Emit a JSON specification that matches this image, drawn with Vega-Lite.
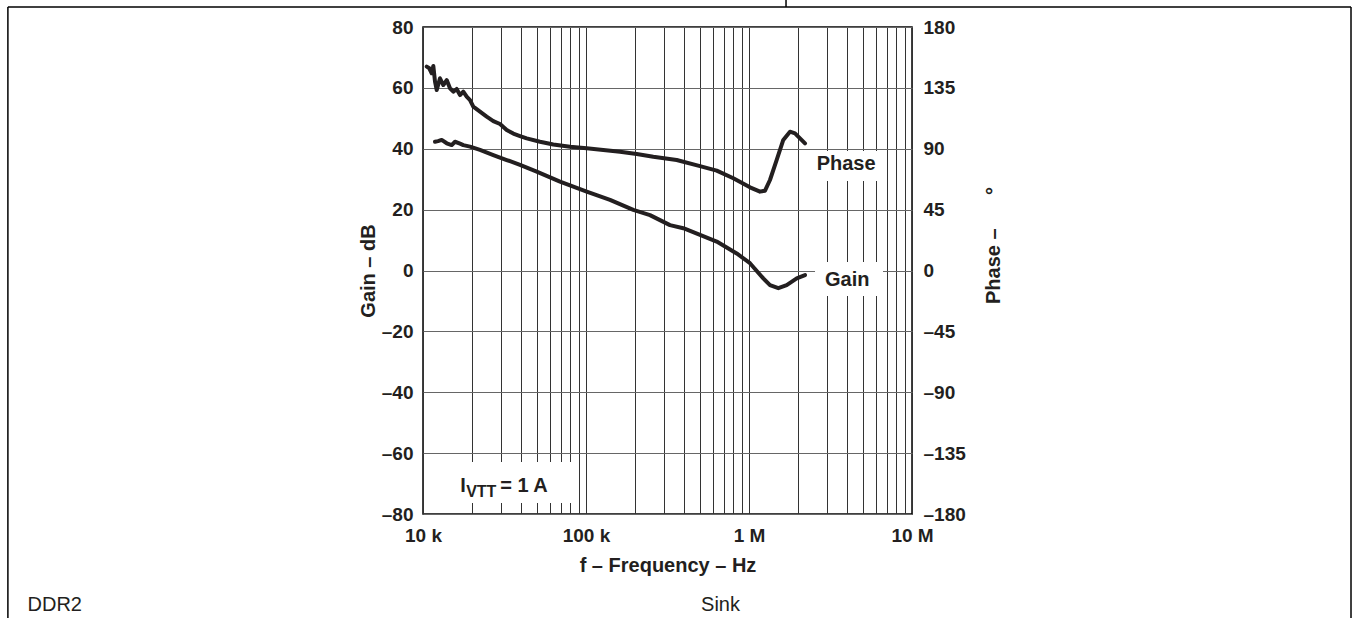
{
  "$schema": "https://vega.github.io/schema/vega-lite/v6.json",
  "width": 489,
  "height": 487,
  "autosize": {"type": "none"},
  "padding": {"left": 423, "top": 27, "right": 445, "bottom": 104},
  "background": "white",
  "datasets": {
    "gain": [
      {"f": 11850, "gain": 42.3}, {"f": 12360, "gain": 42.5}, {"f": 13020, "gain": 42.9}, {"f": 13980, "gain": 41.8},
      {"f": 15000, "gain": 41.2}, {"f": 15720, "gain": 42.3}, {"f": 16870, "gain": 41.7}, {"f": 17670, "gain": 41.2},
      {"f": 19430, "gain": 40.7}, {"f": 22370, "gain": 39.6}, {"f": 27000, "gain": 37.9}, {"f": 32620, "gain": 36.3},
      {"f": 39370, "gain": 34.7}, {"f": 49840, "gain": 32.5}, {"f": 69250, "gain": 29.2}, {"f": 101000, "gain": 25.9},
      {"f": 140400, "gain": 23.2}, {"f": 195100, "gain": 19.9}, {"f": 246900, "gain": 18.2}, {"f": 327500, "gain": 14.9},
      {"f": 395400, "gain": 13.9}, {"f": 500500, "gain": 11.7}, {"f": 633800, "gain": 9.5}, {"f": 840600, "gain": 5.6},
      {"f": 1014000, "gain": 2.4}, {"f": 1224000, "gain": -2.6}, {"f": 1345000, "gain": -4.8}, {"f": 1513000, "gain": -5.8},
      {"f": 1703000, "gain": -4.8}, {"f": 1962000, "gain": -2.6}, {"f": 2206000, "gain": -1.5}
    ],
    "phase": [
      {"f": 10540, "phase": 150.7}, {"f": 10930, "phase": 149.5}, {"f": 11310, "phase": 145.8}, {"f": 11570, "phase": 151.2},
      {"f": 11850, "phase": 139.6}, {"f": 12140, "phase": 133.4}, {"f": 12710, "phase": 142.1}, {"f": 13320, "phase": 137.1},
      {"f": 13980, "phase": 140.8}, {"f": 14640, "phase": 134.7}, {"f": 15350, "phase": 132.2}, {"f": 16090, "phase": 134.2},
      {"f": 16870, "phase": 129.7}, {"f": 17670, "phase": 132.2}, {"f": 18540, "phase": 128.5}, {"f": 19430, "phase": 126.0},
      {"f": 20350, "phase": 121.1}, {"f": 22370, "phase": 117.4}, {"f": 24590, "phase": 113.7}, {"f": 27000, "phase": 110.4},
      {"f": 29680, "phase": 108.3}, {"f": 32620, "phase": 103.9}, {"f": 35810, "phase": 101.2}, {"f": 39370, "phase": 99.4},
      {"f": 43270, "phase": 97.7}, {"f": 52220, "phase": 95.2}, {"f": 63010, "phase": 93.1}, {"f": 79760, "phase": 91.5},
      {"f": 101000, "phase": 90.3}, {"f": 127700, "phase": 89.1}, {"f": 161700, "phase": 87.8}, {"f": 204700, "phase": 86.1},
      {"f": 258800, "phase": 84.1}, {"f": 360100, "phase": 81.7}, {"f": 500500, "phase": 77.2}, {"f": 633800, "phase": 73.8},
      {"f": 801200, "phase": 68.2}, {"f": 1014000, "phase": 61.5}, {"f": 1168000, "phase": 58.3}, {"f": 1254000, "phase": 59.0},
      {"f": 1345000, "phase": 66.9}, {"f": 1479000, "phase": 81.7}, {"f": 1623000, "phase": 96.5}, {"f": 1784000, "phase": 102.6},
      {"f": 1915000, "phase": 101.4}, {"f": 2056000, "phase": 97.7}, {"f": 2206000, "phase": 94.0}
    ],
    "boxes": [
      {"f1": 14030, "f2": 85600, "g1": -62.9, "g2": -76.4},
      {"f1": 2435000, "f2": 6546000, "g1": 39.3, "g2": 29.4},
      {"f1": 2541000, "f2": 6640000, "g1": 2.8, "g2": -8.4}
    ],
    "labels": [
      {"f": 2602000, "gain": 33.0, "label": "Phase"},
      {"f": 2926000, "gain": -5.1, "label": "Gain"}
    ],
    "cond": [{"f": 16900, "gain": -72.7}],
    "hframe": [{"f1": 28.4, "f2": 4935000000, "g": 86.57}],
    "vframe": [
      {"f": 28.4, "g1": 86.57, "g2": -114.2},
      {"f": 4935000000, "g1": 86.57, "g2": -114.2},
      {"f": 1687000, "g1": 86.57, "g2": 110}
    ]
  },
  "layer": [
    {
      "data": {"name": "boxes"},
      "mark": {"type": "rect", "fill": "white", "stroke": null},
      "encoding": {
        "x": {"field": "f1", "type": "quantitative", "scale": {"type": "log", "domain": [10000, 10000000], "nice": false}, "axis": null},
        "x2": {"field": "f2"},
        "y": {"field": "g1", "type": "quantitative", "scale": {"domain": [-80, 80], "nice": false, "zero": false}, "axis": null},
        "y2": {"field": "g2"}
      }
    },
    {
      "data": {"name": "gain"},
      "mark": {"type": "line", "color": "#231f20", "strokeWidth": 4, "strokeJoin": "round", "strokeCap": "round"},
      "encoding": {
        "x": {
          "field": "f", "type": "quantitative",
          "scale": {"type": "log", "domain": [10000, 10000000], "nice": false},
          "axis": {
            "orient": "bottom",
            "values": [10000, 20000, 30000, 40000, 50000, 60000, 70000, 80000, 90000, 100000, 200000, 300000, 400000, 500000, 600000, 700000, 800000, 900000, 1000000, 2000000, 3000000, 4000000, 5000000, 6000000, 7000000, 8000000, 9000000, 10000000],
            "labelExpr": "datum.value == 10000 ? '10 k' : datum.value == 100000 ? '100 k' : datum.value == 1000000 ? '1 M' : datum.value == 10000000 ? '10 M' : ''",
            "grid": true, "gridColor": "#333333", "gridWidth": 1, "gridOpacity": 1,
            "labelPadding": 12, "labelOverlap": false, "labelFlush": false, "labelBound": false,
            "title": "f – Frequency – Hz", "titlePadding": 10
          }
        },
        "y": {
          "field": "gain", "type": "quantitative",
          "scale": {"domain": [-80, 80], "nice": false, "zero": false},
          "axis": {
            "orient": "left",
            "values": [-80, -60, -40, -20, 0, 20, 40, 60, 80],
            "labelExpr": "datum.value < 0 ? '–' + (-datum.value) : '' + datum.value",
            "grid": true, "gridColor": "#666666", "gridWidth": 1, "gridOpacity": 1,
            "labelPadding": 10, "title": "Gain – dB", "titlePadding": 3
          }
        }
      }
    },
    {
      "data": {"name": "phase"},
      "mark": {"type": "line", "color": "#231f20", "strokeWidth": 4, "strokeJoin": "round", "strokeCap": "round"},
      "encoding": {
        "x": {
          "field": "f", "type": "quantitative",
          "scale": {"type": "log", "domain": [10000, 10000000], "nice": false},
          "axis": {
            "orient": "bottom", "domain": false, "ticks": false, "labels": false, "grid": false,
            "title": "Sink", "titleFontWeight": "normal", "titleFontSize": 20,
            "titleX": 297, "titleY": 96, "titleAlign": "center", "titleBaseline": "alphabetic", "titleAngle": 0
          }
        },
        "y": {
          "field": "phase", "type": "quantitative",
          "scale": {"domain": [-180, 180], "nice": false, "zero": false},
          "axis": {
            "orient": "right",
            "values": [-180, -135, -90, -45, 0, 45, 90, 135, 180],
            "labelExpr": "datum.value < 0 ? '–' + (-datum.value) : '' + datum.value",
            "grid": false, "labelPadding": 11,
            "title": "Phase –\u00a0\u00a0\u00a0\u00a0\u00a0\u00a0°", "titleAngle": 270, "titlePadding": 38, "titleY": 218
          }
        }
      }
    },
    {
      "data": {"name": "labels"},
      "mark": {"type": "text", "align": "left", "baseline": "alphabetic", "font": "Liberation Sans", "fontSize": 20, "fontWeight": "bold", "color": "#231f20"},
      "encoding": {
        "x": {
          "field": "f", "type": "quantitative",
          "scale": {"type": "log", "domain": [10000, 10000000], "nice": false},
          "axis": {
            "orient": "bottom", "domain": false, "ticks": false, "labels": false, "grid": false,
            "title": "DDR2", "titleFontWeight": "normal", "titleFontSize": 20,
            "titleX": -396, "titleY": 96, "titleAlign": "left", "titleBaseline": "alphabetic", "titleAngle": 0
          }
        },
        "y": {"field": "gain", "type": "quantitative", "scale": {"domain": [-80, 80], "nice": false, "zero": false}, "axis": null},
        "text": {"field": "label"}
      }
    },
    {
      "data": {"name": "cond"},
      "mark": {"type": "text", "text": "I", "align": "left", "baseline": "alphabetic", "font": "Liberation Sans", "fontSize": 20, "fontWeight": "bold", "color": "#231f20"},
      "encoding": {
        "x": {"field": "f", "type": "quantitative", "axis": null},
        "y": {"field": "gain", "type": "quantitative", "scale": {"domain": [-80, 80], "nice": false, "zero": false}, "axis": null}
      }
    },
    {
      "data": {"name": "cond"},
      "mark": {"type": "text", "text": "VTT", "dx": 6, "dy": 5, "align": "left", "baseline": "alphabetic", "font": "Liberation Sans", "fontSize": 16, "fontWeight": "bold", "color": "#231f20"},
      "encoding": {
        "x": {"field": "f", "type": "quantitative", "axis": null},
        "y": {"field": "gain", "type": "quantitative", "scale": {"domain": [-80, 80], "nice": false, "zero": false}, "axis": null}
      }
    },
    {
      "data": {"name": "cond"},
      "mark": {"type": "text", "text": "= 1 A", "dx": 40, "align": "left", "baseline": "alphabetic", "font": "Liberation Sans", "fontSize": 20, "fontWeight": "bold", "color": "#231f20"},
      "encoding": {
        "x": {"field": "f", "type": "quantitative", "axis": null},
        "y": {"field": "gain", "type": "quantitative", "scale": {"domain": [-80, 80], "nice": false, "zero": false}, "axis": null}
      }
    },
    {
      "data": {"name": "hframe"},
      "mark": {"type": "rule", "color": "#000000", "strokeWidth": 1.5},
      "encoding": {
        "x": {"field": "f1", "type": "quantitative", "axis": null},
        "x2": {"field": "f2"},
        "y": {"field": "g", "type": "quantitative", "scale": {"domain": [-80, 80], "nice": false, "zero": false}, "axis": null}
      }
    },
    {
      "data": {"name": "vframe"},
      "mark": {"type": "rule", "color": "#000000", "strokeWidth": 1.5},
      "encoding": {
        "x": {"field": "f", "type": "quantitative", "axis": null},
        "y": {"field": "g1", "type": "quantitative", "scale": {"domain": [-80, 80], "nice": false, "zero": false}, "axis": null},
        "y2": {"field": "g2"}
      }
    }
  ],
  "resolve": {"scale": {"y": "independent"}, "axis": {"x": "independent"}},
  "config": {
    "view": {"stroke": "#000000", "strokeWidth": 1.5},
    "font": "Liberation Sans",
    "axis": {
      "labelFont": "Liberation Sans", "titleFont": "Liberation Sans",
      "labelFontWeight": "bold", "titleFontWeight": "bold",
      "labelColor": "#231f20", "titleColor": "#231f20",
      "labelFontSize": 19, "titleFontSize": 20,
      "ticks": false, "domain": false
    }
  }
}
